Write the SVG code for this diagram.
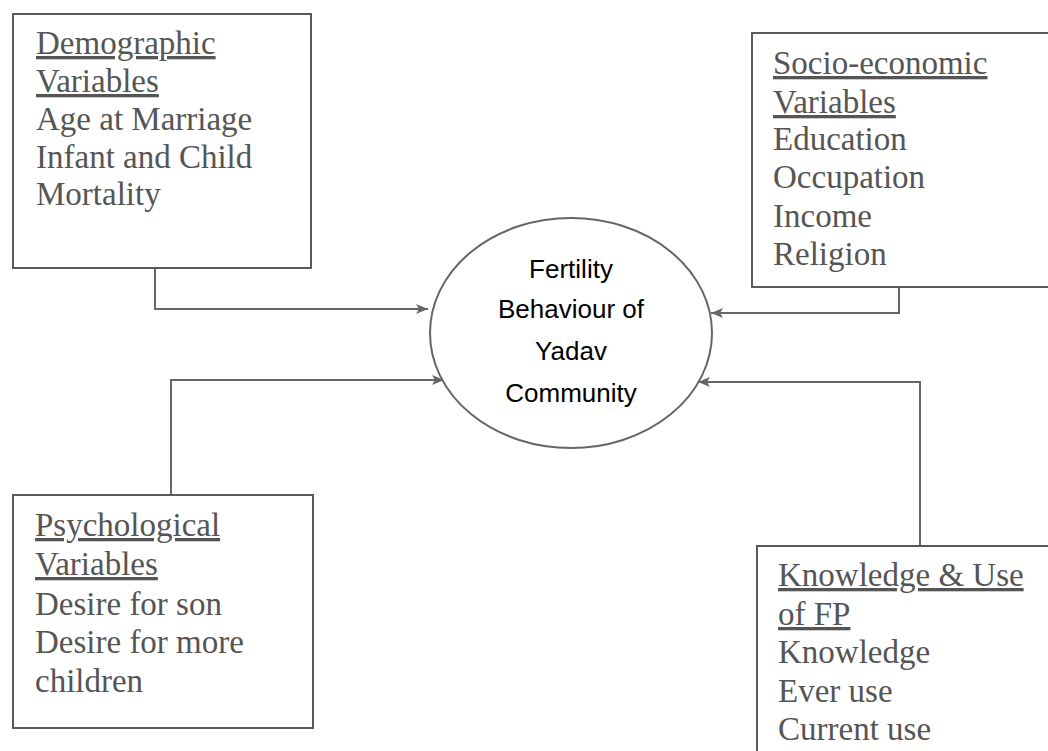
<svg xmlns="http://www.w3.org/2000/svg" width="1048" height="751" viewBox="0 0 1048 751">
<style>
.box{fill:#fff;stroke:#5a5a5a;stroke-width:2}
.t{font-family:'Liberation Serif','DejaVu Serif',serif;font-size:33px;fill:#555}
.h{text-decoration:underline}
.c{font-family:'Liberation Sans','DejaVu Sans',sans-serif;font-size:26px;fill:#000;text-anchor:middle}
.ln{fill:none;stroke:#666;stroke-width:2}
</style>
<defs>
<marker id="ah" markerWidth="14" markerHeight="12" refX="12" refY="6" orient="auto" markerUnits="userSpaceOnUse">
<path d="M0,1 L12,6 L0,11 L3,6 Z" fill="#666"/>
</marker>
</defs>
<rect width="1048" height="751" fill="#fff"/>
<g id="connectors">
<path class="ln" d="M155,268 V309 H428" marker-end="url(#ah)"/>
<path class="ln" d="M899,287 V313 H711" marker-end="url(#ah)"/>
<path class="ln" d="M171,495 V380 H444" marker-end="url(#ah)"/>
<path class="ln" d="M920,546 V382 H698" marker-end="url(#ah)"/>
</g>
<g id="center">
<ellipse cx="571" cy="333" rx="141" ry="115" fill="#fff" stroke="#666" stroke-width="2"/>
<text class="c" x="571" y="278">Fertility</text>
<text class="c" x="571" y="318">Behaviour of</text>
<text class="c" x="571" y="360">Yadav</text>
<text class="c" x="571" y="402">Community</text>
</g>
<g id="demographic">
<rect class="box" x="13" y="14" width="298" height="254"/>
<text class="t h" x="36" y="54">Demographic</text>
<text class="t h" x="36" y="92">Variables</text>
<text class="t" x="36" y="130">Age at Marriage</text>
<text class="t" x="36" y="168">Infant and Child</text>
<text class="t" x="36" y="205">Mortality</text>
</g>
<g id="socioeconomic">
<path class="box" d="M1050,33 H752 V287 H1050"/>
<text class="t h" x="773" y="74">Socio-economic</text>
<text class="t h" x="773" y="113">Variables</text>
<text class="t" x="773" y="150">Education</text>
<text class="t" x="773" y="188">Occupation</text>
<text class="t" x="773" y="227">Income</text>
<text class="t" x="773" y="265">Religion</text>
</g>
<g id="psychological">
<rect class="box" x="13" y="495" width="300" height="233"/>
<text class="t h" x="35" y="536">Psychological</text>
<text class="t h" x="35" y="575">Variables</text>
<text class="t" x="35" y="615">Desire for son</text>
<text class="t" x="35" y="653">Desire for more</text>
<text class="t" x="35" y="692">children</text>
</g>
<g id="knowledge">
<path class="box" d="M1050,546 H757 V760"/>
<text class="t h" x="778" y="586">Knowledge &amp; Use</text>
<text class="t h" x="778" y="625">of FP</text>
<text class="t" x="778" y="663">Knowledge</text>
<text class="t" x="778" y="702">Ever use</text>
<text class="t" x="778" y="740">Current use</text>
</g>
</svg>
